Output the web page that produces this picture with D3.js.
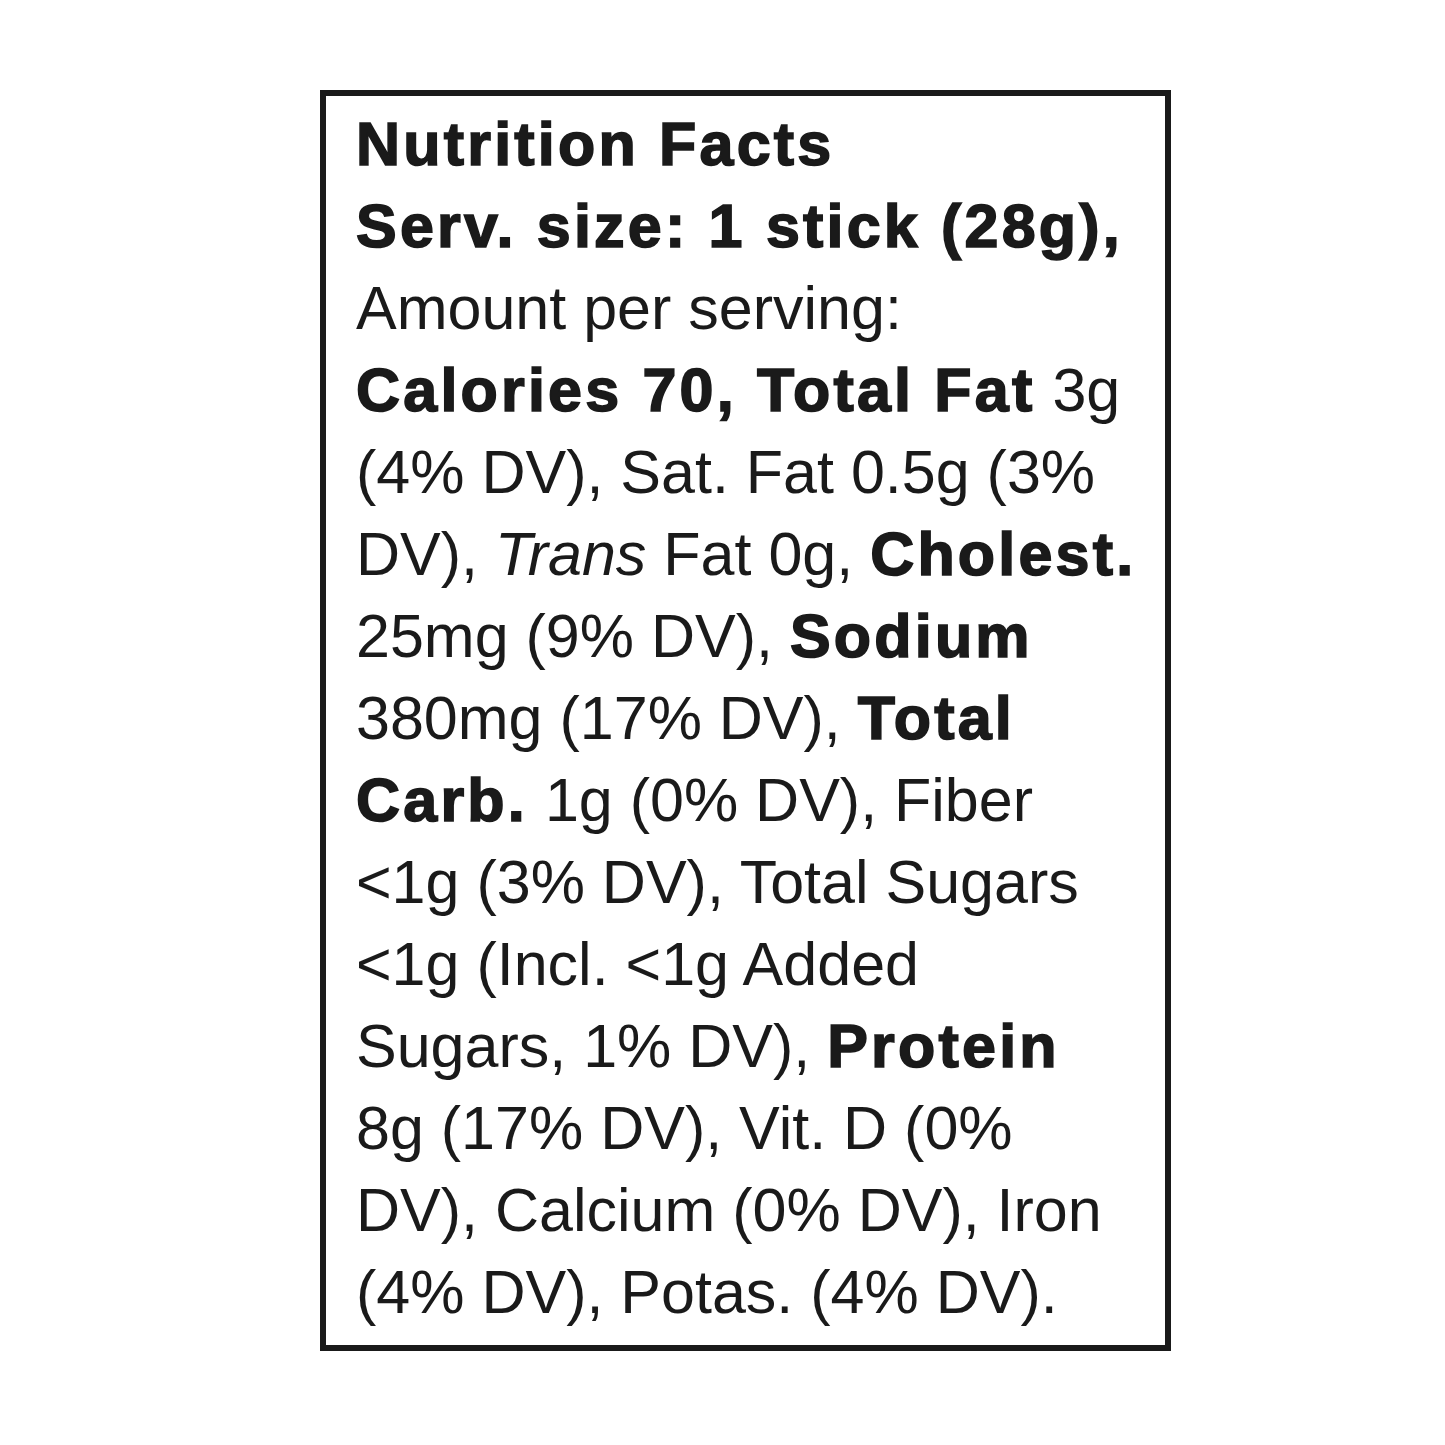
<!DOCTYPE html>
<html><head><meta charset="utf-8">
<script src="https://cdn.jsdelivr.net/npm/d3@7"></script>
<style>body{margin:0;background:#fff}</style>
</head><body>
<script>
// each line: list of [text, style] where style b=bold, i=italic, n=normal
const labelLines = [
  [["Nutrition Facts", "b"]],
  [["Serv. size: 1 stick (28g),", "b"]],
  [["Amount per serving:", "n"]],
  [["Calories 70, Total Fat", "b"], [" 3g", "n"]],
  [["(4% DV), Sat. Fat 0.5g (3%", "n"]],
  [["DV), ", "n"], ["Trans", "i"], [" Fat 0g, ", "n"], ["Cholest.", "b"]],
  [["25mg (9% DV), ", "n"], ["Sodium", "b"]],
  [["380mg (17% DV), ", "n"], ["Total", "b"]],
  [["Carb.", "b"], [" 1g (0% DV), Fiber", "n"]],
  [["<1g (3% DV), Total Sugars", "n"]],
  [["<1g (Incl. <1g Added", "n"]],
  [["Sugars, 1% DV), ", "n"], ["Protein", "b"]],
  [["8g (17% DV), Vit. D (0%", "n"]],
  [["DV), Calcium (0% DV), Iron", "n"]],
  [["(4% DV), Potas. (4% DV).", "n"]]
];

const W = 1445, H = 1445;
const svg = d3.select("body").append("svg").attr("width", W).attr("height", H);

const box = { x: 323, y: 93, w: 845, h: 1255 };
svg.append("rect")
  .attr("x", box.x).attr("y", box.y).attr("width", box.w).attr("height", box.h)
  .attr("fill", "none").attr("stroke", "#1a1a1a").attr("stroke-width", 6);

const y = d3.scaleLinear().domain([0, labelLines.length - 1]).range([165, 1313]);

const text = svg.selectAll(".line")
  .data(labelLines)
  .enter().append("text")
    .attr("class", "line")
    .attr("x", 356)
    .attr("y", (d, i) => y(i))
    .attr("font-family", "'Liberation Sans', Arial, sans-serif")
    .attr("font-size", 61)
    .attr("fill", "#1a1a1a")
    .attr("xml:space", "preserve")
    .style("white-space", "pre");

text.selectAll("tspan")
  .data(d => d)
  .enter().append("tspan")
    .attr("font-weight", d => d[1] === "b" ? 900 : 400)
    .attr("font-style", d => d[1] === "i" ? "italic" : "normal")
    .attr("letter-spacing", d => d[1] === "b" ? 3.2 : 0)
    .attr("stroke", d => d[1] === "b" ? "#1a1a1a" : "none")
    .attr("stroke-width", 1.6)
    .text(d => d[0]);
</script>
</body></html>
